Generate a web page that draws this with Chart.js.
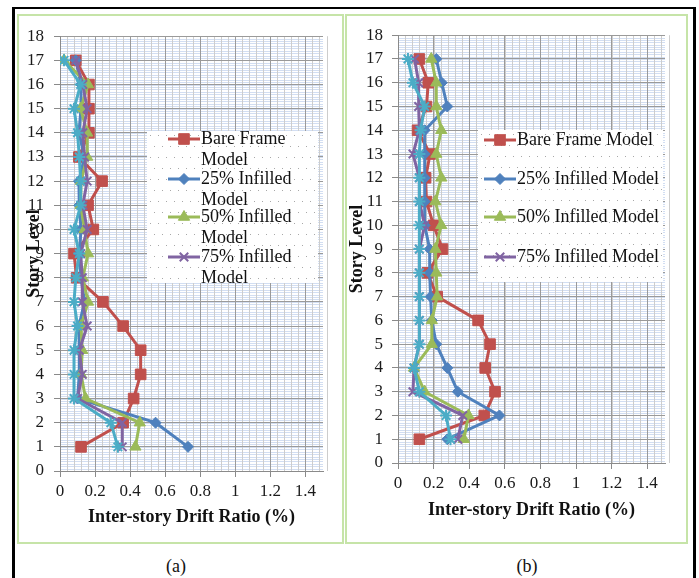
<!DOCTYPE html>
<html><head><meta charset="utf-8">
<script src="https://cdn.jsdelivr.net/npm/chart.js@4.4.0/dist/chart.umd.min.js"></script>
<style>
html,body{margin:0;padding:0;background:#fff;}
#root{position:relative;width:699px;height:578px;overflow:hidden;background:#fff;font-family:"Liberation Serif","Times New Roman",serif;}
.blk{position:absolute;background:#000;}
.panel{position:absolute;border:2px solid #c6e4a8;box-sizing:border-box;}
.cap{position:absolute;font-size:18px;color:#111;transform:translate(-50%,-50%);white-space:nowrap;}
canvas{position:absolute;}
</style></head><body>
<div id="root">
 <div class="blk" style="left:12px;top:7px;width:3px;height:571px"></div>
 <div class="blk" style="left:12px;top:7px;width:684px;height:2px"></div>
 <div class="blk" style="left:693px;top:7px;width:3px;height:571px"></div>
 <div class="panel" style="left:17px;top:14px;width:327px;height:530px"></div>
 <div class="panel" style="left:345px;top:14px;width:343px;height:530px"></div>
 <canvas id="ca" width="323" height="526" style="left:19px;top:16px;width:323px;height:526px"></canvas>
 <canvas id="cb" width="339" height="526" style="left:347px;top:16px;width:339px;height:526px"></canvas>
 <div class="cap" style="left:176px;top:566px">(a)</div>
 <div class="cap" style="left:527px;top:566px">(b)</div>
</div>
<script>
// ---------- data ----------
const stories = [1,2,3,4,5,6,7,8,9,10,11,12,13,14,15,16,17];
const yTickVals = [0,1,2,3,4,5,6,7,8,9,10,11,12,13,14,15,16,17,18];
const xTickVals = [0,0.2,0.4,0.6,0.8,1,1.2,1.4];
const xTickLabels = ['0','0.2','0.4','0.6','0.8','1','1.2','1.4'];
const seriesNames = ['Bare Frame Model','25% Infilled Model','50% Infilled Model','75% Infilled Model'];
const xTitle = 'Inter-story Drift Ratio (%)';
const yTitle = 'Story Level';

// panel (a)
const aBare = [0.12,0.36,0.42,0.46,0.46,0.36,0.245,0.095,0.08,0.19,0.16,0.24,0.108,0.165,0.165,0.165,0.09];
const a25   = [0.73,0.545,0.10,0.11,0.11,0.108,0.14,0.12,0.11,0.12,0.11,0.108,0.14,0.108,0.12,0.12,0.09];
const a50   = [0.43,0.455,0.146,0.12,0.127,0.12,0.16,0.13,0.16,0.14,0.118,0.12,0.155,0.155,0.118,0.16,0.023];
const a75   = [0.355,0.355,0.10,0.127,0.11,0.155,0.127,0.127,0.118,0.155,0.13,0.155,0.14,0.13,0.155,0.13,0.09];
const aExtra= [0.33,0.29,0.08,0.08,0.08,0.10,0.08,0.09,0.11,0.08,0.118,0.118,0.11,0.10,0.08,0.118,0.023];

// panel (b)
const bBare = [0.12,0.485,0.545,0.49,0.517,0.45,0.22,0.165,0.25,0.20,0.16,0.155,0.18,0.11,0.16,0.17,0.12];
const b25   = [0.277,0.57,0.336,0.277,0.215,0.19,0.183,0.178,0.178,0.15,0.15,0.15,0.15,0.15,0.277,0.246,0.215];
const b50   = [0.37,0.396,0.15,0.09,0.19,0.19,0.22,0.215,0.21,0.243,0.21,0.243,0.215,0.243,0.215,0.215,0.187];
const b75   = [0.336,0.364,0.084,0.09,0.12,0.12,0.12,0.12,0.12,0.15,0.12,0.12,0.084,0.12,0.116,0.116,0.093];
const bExtra= [0.295,0.27,0.12,0.09,0.12,0.12,0.12,0.12,0.12,0.12,0.12,0.12,0.12,0.127,0.15,0.084,0.056];

// ---------- styling ----------
const FONT = "'Liberation Serif','Times New Roman',serif";
const seriesStyle = [
  {color:'#C0504D', pointStyle:'rect',     radius:7.5, bw:1, order:5},
  {color:'#4F81BD', pointStyle:'rectRot',  radius:5.5, bw:1, order:4},
  {color:'#9BBB59', pointStyle:'triangle', radius:6.5, bw:1, order:3},
  {color:'#8064A2', pointStyle:'crossRot', radius:6,   bw:2, order:2},
  {color:'#4BACC6', pointStyle:'star',     radius:6,   bw:2, order:1}
];

function makeDatasets(arrs){
  return arrs.map((vals,i)=>{
    const st = seriesStyle[i];
    return {
      label: i < seriesNames.length ? seriesNames[i] : '',
      data: stories.map((s,k)=>({x:vals[k], y:s})),
      showLine:true,
      borderColor:st.color, backgroundColor:st.color,
      borderWidth:3,
      pointStyle:st.pointStyle, pointRadius:st.radius,
      pointBorderWidth:st.bw, pointBorderColor:st.color, pointBackgroundColor:st.color,
      order:st.order, tension:0
    };
  });
}

const minorGrid = {
  id:'minorGrid',
  beforeDraw(chart, args, opts){
    const {ctx, chartArea:ca, scales:{x, y}} = chart;
    ctx.save();
    ctx.lineWidth = 1;
    // horizontal minor (light blue)
    ctx.strokeStyle = opts.hColor;
    for (let v = y.min; v <= y.max + 1e-9; v += opts.yStep){
      const p = Math.round(y.getPixelForValue(v)) + 0.5;
      ctx.beginPath(); ctx.moveTo(ca.left, p); ctx.lineTo(ca.right, p); ctx.stroke();
    }
    // vertical minor (light gray)
    ctx.strokeStyle = opts.vColor;
    const n = Math.round((x.max - x.min)/opts.xStep);
    for (let k = 0; k <= n; k++){
      const v = x.min + k*opts.xStep;
      const p = Math.round(x.getPixelForValue(v)) + 0.5;
      ctx.beginPath(); ctx.moveTo(p, ca.top); ctx.lineTo(p, ca.bottom); ctx.stroke();
    }
    ctx.restore();
  }
};

function drawMarker(ctx, st, cx, cy){
  ctx.save();
  ctx.fillStyle = st.color; ctx.strokeStyle = st.color; ctx.lineWidth = st.bw;
  if (Chart.helpers && Chart.helpers.drawPoint){
    Chart.helpers.drawPoint(ctx, {pointStyle:st.pointStyle, radius:st.radius, rotation:0, borderWidth:st.bw}, cx, cy);
  } else {
    ctx.fillRect(cx-st.radius*0.7, cy-st.radius*0.7, st.radius*1.4, st.radius*1.4);
  }
  ctx.restore();
}

const boxLegend = {
  id:'boxLegend',
  afterDraw(chart, args, o){
    const ctx = chart.ctx;
    ctx.save();
    ctx.fillStyle = '#fff';
    ctx.fillRect(o.x, o.y, o.w, o.h);
    ctx.fillStyle = '#a8a8a8';
    for (let yy = o.y + 4, r = 0; yy < o.y + o.h; yy += 11, r++){
      for (let xx = o.x + 3 + (r%2)*4; xx < o.x + o.w; xx += 8){
        ctx.fillRect(xx, yy, 1, 1);
      }
    }
    ctx.font = '18px ' + FONT;
    ctx.textBaseline = 'middle';
    ctx.textAlign = 'left';
    o.rows.forEach((ry, i) => {
      const st = seriesStyle[i];
      ctx.strokeStyle = st.color; ctx.lineWidth = 3;
      ctx.beginPath(); ctx.moveTo(o.lx1, ry); ctx.lineTo(o.lx2, ry); ctx.stroke();
      drawMarker(ctx, st, (o.lx1+o.lx2)/2, ry);
      const name = seriesNames[i];
      let lines = [name];
      if (o.wrap){
        const cut = name.lastIndexOf(' ');
        lines = [name.slice(0,cut), name.slice(cut+1)];
      }
      ctx.fillStyle = '#111';
      lines.forEach((t, j) => ctx.fillText(t, o.tx, ry + j*o.lineGap));
    });
    ctx.restore();
  }
};

function makeChart(id, arrs, cfg){
  return new Chart(document.getElementById(id), {
    type:'scatter',
    data:{datasets:makeDatasets(arrs)},
    plugins:[minorGrid, boxLegend],
    options:{
      responsive:false, animation:false, devicePixelRatio:1,
      layout:{padding:{left:0, right:cfg.padRight, top:17, bottom:0}},
      plugins:{
        legend:{display:false}, tooltip:{enabled:false},
        minorGrid:{xStep:0.04, yStep:0.1, hColor:'#d2def2', vColor:'#cdcdcd'},
        boxLegend:cfg.legend
      },
      scales:{
        x:{
          type:'linear', min:0, max:1.5,
          afterBuildTicks:s=>{ s.ticks = xTickVals.map(v=>({value:v})); },
          afterFit:s=>{ s.height = cfg.xH; },
          ticks:{callback:(v)=>{ const i = xTickVals.findIndex(t=>Math.abs(t-v)<1e-9); return i<0?'':xTickLabels[i]; },
                 font:{family:FONT, size:17}, color:'#1a1a1a', padding:4, maxRotation:0, autoSkip:false},
          grid:{color:'#9a9a9a', lineWidth:1, drawTicks:true, tickLength:6, tickColor:'#8a8a8a'},
          border:{display:true, color:'#8a8a8a', width:1},
          title:{display:true, text:xTitle, font:{family:FONT, size:18, weight:'bold'}, color:'#111',
                 padding:{top:0, bottom:cfg.xTitlePad}}
        },
        y:{
          type:'linear', min:0, max:18,
          afterBuildTicks:s=>{ s.ticks = yTickVals.map(v=>({value:v})); },
          afterFit:s=>{ s.width = cfg.yW; },
          ticks:{font:{family:FONT, size:17}, color:'#1a1a1a', padding:cfg.yTickPad, autoSkip:false},
          grid:{color:'#9a9a9a', lineWidth:1, drawTicks:true, tickLength:6, tickColor:'#8a8a8a'},
          border:{display:true, color:'#8a8a8a', width:1},
          title:{display:true, text:yTitle, font:{family:FONT, size:18, weight:'bold'}, color:'#111',
                 padding:{top:cfg.yTitlePad, bottom:0}}
        }
      }
    }
  });
}

makeChart('ca', [aBare,a25,a50,a75,aExtra], {
  padRight:19, xH:71, yW:41, xTitlePad:14, yTitlePad:5, yTickPad:10,
  legend:{x:128, y:115, w:171, h:152, rows:[123,163,201,241], lineGap:21, lx1:149, lx2:181, tx:182, wrap:true}
});
makeChart('cb', [bBare,b25,b50,b75,bExtra], {
  padRight:21, xH:79, yW:51, xTitlePad:21, yTitlePad:0, yTickPad:9,
  legend:{x:131, y:114, w:185, h:152, rows:[124,163,201,241], lineGap:21, lx1:137, lx2:169, tx:170, wrap:false}
});
</script>
</body></html>
